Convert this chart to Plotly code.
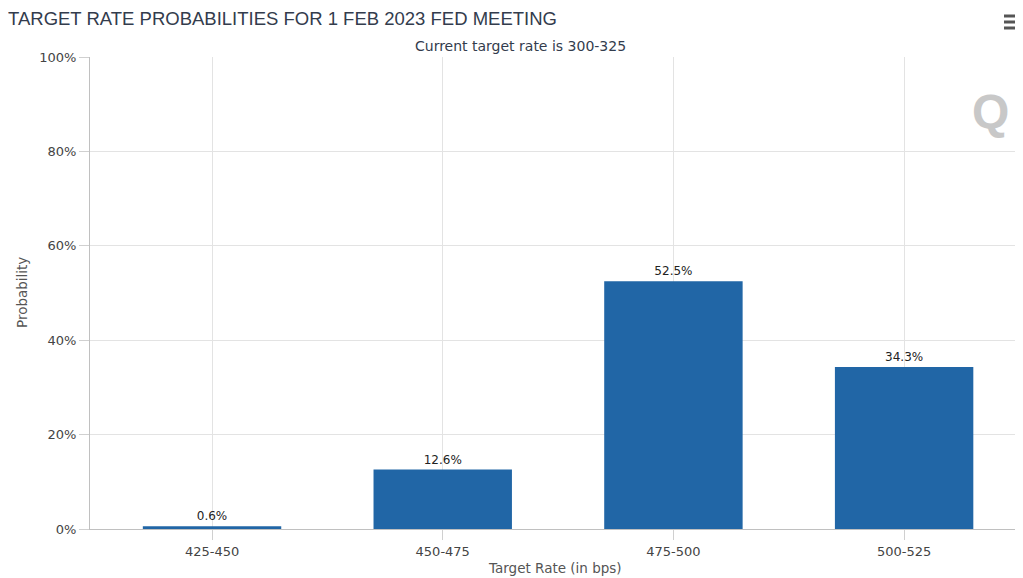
import plotly.graph_objects as go

categories = ["425-450", "450-475", "475-500", "500-525"]
probabilities = [0.6, 12.6, 52.5, 34.3]
y_ticks = [0, 20, 40, 60, 80, 100]
y_tick_labels = ["0%", "20%", "40%", "60%", "80%", "100%"]

# page body has an 8px margin, so the figure is sized to fit the window
W, H = 1015, 570
L, R, T, B = 82, 4, 49, 49
PW, PH = W - L - R, H - T - B
FONT = "DejaVu Sans"

fig = go.Figure()
fig.add_trace(go.Bar(
    x=list(range(len(categories))),
    y=probabilities,
    width=0.6,
    marker=dict(color="#2166a6", line=dict(width=0)),
    text=[f"{v}%" for v in probabilities],
    textposition="outside",
    textfont=dict(family=FONT, size=12, color="#222"),
    cliponaxis=False,
    hoverinfo="skip",
))

fig.update_layout(
    width=W, height=H,
    margin=dict(l=L, r=R, t=T, b=B),
    paper_bgcolor="white", plot_bgcolor="white",
    showlegend=False,
    font=dict(family=FONT, color="#555"),
    title=dict(text="TARGET RATE PROBABILITIES FOR 1 FEB 2023 FED MEETING",
               x=0.0, xanchor="left", y=1 - 11 / H, yanchor="middle",
               pad=dict(l=0, r=0, t=0, b=0),
               font=dict(family="Liberation Sans", size=18.5, color="#333c4d")),
    xaxis=dict(
        tickmode="array", tickvals=list(range(len(categories))), ticktext=categories,
        range=[-0.529, 3.498],
        showgrid=True, gridcolor="#e3e3e3", gridwidth=1,
        showline=True, linecolor="#c0c0c0", linewidth=1,
        ticks="outside", ticklen=10, tickcolor="#d0d0d0",
        tickfont=dict(family=FONT, size=13, color="#444"),
        zeroline=False,
    ),
    yaxis=dict(
        range=[0, 100],
        tickmode="array", tickvals=y_ticks, ticktext=y_tick_labels,
        showgrid=True, gridcolor="#e3e3e3", gridwidth=1,
        showline=True, linecolor="#c0c0c0", linewidth=1,
        ticks="outside", ticklen=10, tickcolor="#d0d0d0",
        tickfont=dict(family=FONT, size=13, color="#444"),
        zeroline=False,
    ),
)

# subtitle
fig.add_annotation(text="Current target rate is 300-325", xref="paper", yref="paper",
                   x=(512 - L) / PW, y=1.0, xanchor="center", yanchor="middle", yshift=11,
                   showarrow=False, font=dict(family=FONT, size=14, color="#333c4d"))

# axis titles
fig.add_annotation(text="Target Rate (in bps)", xref="paper", yref="paper",
                   x=0.5, y=0, xanchor="center", yanchor="middle", yshift=-39,
                   showarrow=False, font=dict(family=FONT, size=13.5, color="#555"))
fig.add_annotation(text="Probability", xref="paper", yref="paper",
                   x=0, y=(521 - 285) / PH, xanchor="center", yanchor="middle", xshift=-68,
                   textangle=-90, showarrow=False,
                   font=dict(family=FONT, size=13.5, color="#555"))

# watermark Q
fig.add_annotation(text="<b>Q</b>", xref="paper", yref="paper",
                   x=(982 - L) / PW, y=(521 - 103) / PH, xanchor="center", yanchor="middle",
                   showarrow=False, font=dict(family="Liberation Sans", size=48, color="#c8c8c8"))

# hamburger menu icon
for yf in (8, 14, 20):
    yp = (H - B - yf) / PH
    fig.add_shape(type="line", xref="paper", yref="paper",
                  x0=(996 - L) / PW, x1=(1012 - L) / PW, y0=yp, y1=yp,
                  line=dict(color="#555", width=3))

fig.write_html("out.html", config={"displayModeBar": False})
